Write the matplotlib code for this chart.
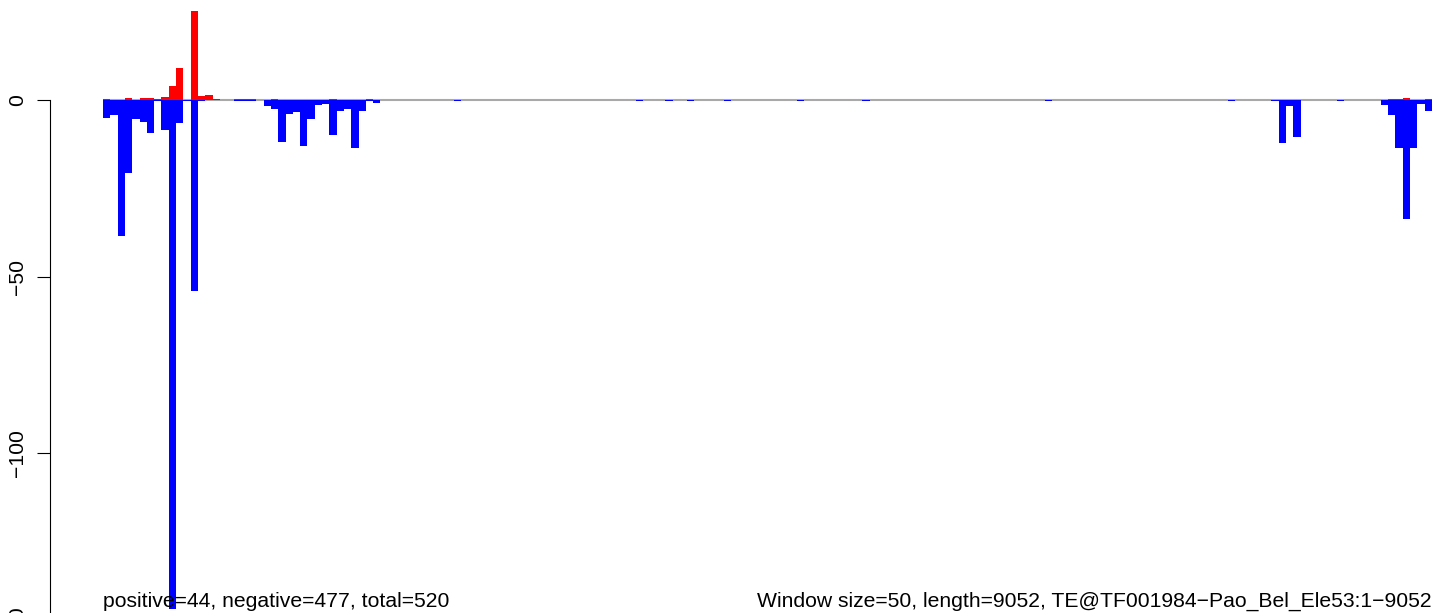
import matplotlib.pyplot as plt
import numpy as np

plt.rcParams['font.family'] = ['Liberation Sans', 'DejaVu Sans']

# window size 50 over 9052 bp -> 182 windows
n_win = 182

# positive strand counts per window (only non-empty windows)
pos_bins = [0, 3, 5, 6, 7, 8, 9, 10, 12, 13, 14, 15, 18, 19, 20, 23, 31, 36,
            176, 177, 178, 181]
pos_vals = [0.3, 0.6, 0.6, 0.6, 0.2, 0.85, 4.0, 9.1, 25.2, 1.1, 1.4, 0.3,
            0.3, 0.3, 0.3, 0.3, 0.3, 0.3, 0.3, 0.3, 0.6, 0.3]

# negative strand counts per window
neg_bins = [0, 1, 2, 3, 4, 5, 6, 7, 8, 9, 10, 11, 12, 13, 18, 19, 20,
            22, 23, 24, 25, 26, 27, 28, 29, 30, 31, 32, 33, 34, 35, 36, 37,
            48, 73, 77, 80, 85, 95, 104, 129, 154, 160, 161, 162, 163, 169,
            175, 176, 177, 178, 179, 180, 181]
neg_vals = [-5.0, -4.2, -38.4, -20.8, -5.3, -6.1, -9.2, -0.3, -8.5, -144.0,
            -6.4, -0.3, -54.0, -0.3, -0.3, -0.3, -0.3,
            -1.6, -2.5, -11.8, -3.9, -3.3, -12.9, -5.3, -1.3, -1.0, -9.8,
            -3.0, -2.5, -13.5, -3.0, -0.3, -0.8,
            -0.3, -0.3, -0.3, -0.3, -0.3, -0.3, -0.3, -0.3, -0.3, -0.3,
            -12.1, -1.6, -10.4, -0.3,
            -1.3, -4.2, -13.5, -33.6, -13.5, -1.0, -3.0]

y_ticks = [0, -50, -100, -150]
y_labels = ['0', '\u221250', '\u2212100', '\u2212150']

left_txt = 'positive=44, negative=477, total=520'
right_txt = 'Window size=50, length=9052, TE@TF001984\u2212Pao_Bel_Ele53:1\u22129052'

pos = np.zeros(n_win)
neg = np.zeros(n_win)
pos[pos_bins] = pos_vals
neg[neg_bins] = neg_vals
x = np.arange(n_win)

fs = 15.2
tick_len = 9.4
tick_pad = 7

W, H = 1444, 613
fig = plt.figure(figsize=(W / 100, H / 100), dpi=100)
ax = fig.add_axes([50 / W, 0, (1432 - 50) / W, 1])

px_per_bin = 1329 / n_win
px_per_unit = 3.533

ax.hlines(0, 0, n_win, color='#a9a9a9', linewidth=1.5, zorder=1)
ax.bar(x, pos, width=1, align='edge', color='#ff0000', linewidth=0, zorder=2)
ax.bar(x, neg, width=1, align='edge', color='#0000ff', linewidth=0, zorder=2)

for s in ['top', 'right', 'bottom']:
    ax.spines[s].set_visible(False)
ax.spines['left'].set_bounds(-150, 0)
ax.spines['left'].set_linewidth(0.8)
ax.set_xticks([])
ax.set_yticks(y_ticks)
ax.set_yticklabels(y_labels, rotation=90, va='center', fontsize=fs)
ax.tick_params(axis='y', length=tick_len, width=0.8, pad=tick_pad)

# limits after set_yticks, otherwise the -150 tick widens the view
ax.set_xlim(-53 / px_per_bin, n_win)
ax.set_ylim(-(H - 100) / px_per_unit, 100 / px_per_unit)

# the -150 tick sits just below the visible area, only its label top shows
trans, _, ha = ax.get_yaxis_text1_transform(tick_len + tick_pad)
ax.text(0, y_ticks[-1], y_labels[-1], transform=trans, rotation=90,
        ha=ha, va='center', fontsize=fs, clip_on=False)

base = -(607 - 100) / px_per_unit
ax.text(0, base, left_txt, ha='left', va='baseline', fontsize=fs, zorder=5)
ax.text(n_win, base, right_txt, ha='right', va='baseline', fontsize=fs, zorder=5)

fig.savefig('out.png', dpi=100)
